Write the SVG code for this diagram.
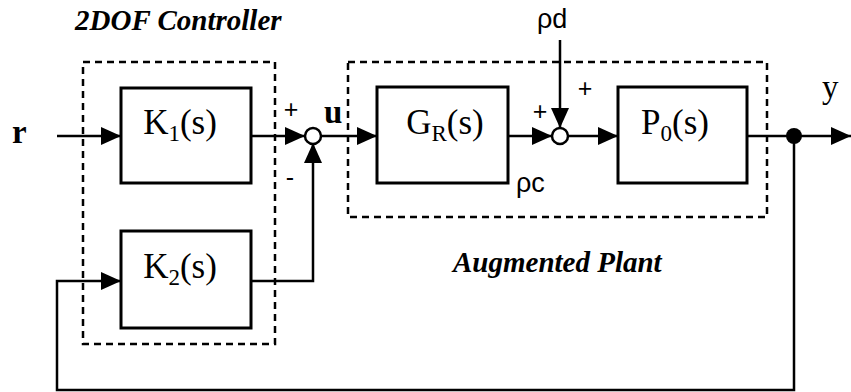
<svg xmlns="http://www.w3.org/2000/svg" width="851" height="392" viewBox="0 0 851 392">
<defs>
<marker id="ah" markerWidth="20" markerHeight="18" refX="20" refY="9" orient="auto" markerUnits="userSpaceOnUse">
<path d="M0,0 L20,9 L0,18 Z" fill="#000"/>
</marker>
<style>
.box{fill:#fff;stroke:#000;stroke-width:3}
.dash{fill:none;stroke:#000;stroke-width:2.5;stroke-dasharray:7 5}
.ln{fill:none;stroke:#000;stroke-width:2.5}
.sum{fill:#fff;stroke:#000;stroke-width:2.5}
.lbl{font-family:"Liberation Serif","Times New Roman",serif;font-size:35px;fill:#000}
.sub{font-size:23px}
.ttl{font-family:"Liberation Serif","Times New Roman",serif;font-size:29px;font-weight:bold;font-style:italic;fill:#000}
.sig{font-family:"Liberation Serif","Times New Roman",serif;font-size:33px;fill:#000}
.rho{font-family:"Liberation Sans",Arial,sans-serif;font-size:27px;fill:#000}
.sgn{font-family:"Liberation Sans",Arial,sans-serif;font-size:25px;fill:#000}
</style>
</defs>
<rect width="851" height="392" fill="#fff"/>

<g id="controller-frame">
<rect class="dash" x="83" y="62" width="192" height="282"/>
<text class="ttl" x="75" y="30">2DOF Controller</text>
</g>
<g id="plant-frame">
<rect class="dash" x="348" y="62" width="419" height="155"/>
<text class="ttl" x="453" y="272">Augmented Plant</text>
</g>

<g id="connectors">
<line class="ln" x1="57" y1="136" x2="121" y2="136" marker-end="url(#ah)"/>
<line class="ln" x1="251" y1="136" x2="305" y2="136" marker-end="url(#ah)"/>
<polyline class="ln" points="251,281 313,281 313,143" marker-end="url(#ah)"/>
<line class="ln" x1="321" y1="136" x2="377" y2="136" marker-end="url(#ah)"/>
<line class="ln" x1="508" y1="136" x2="552" y2="136" marker-end="url(#ah)"/>
<line class="ln" x1="560" y1="40" x2="560" y2="128" marker-end="url(#ah)"/>
<line class="ln" x1="568" y1="136" x2="618" y2="136" marker-end="url(#ah)"/>
<line class="ln" x1="747" y1="136" x2="851" y2="136" marker-end="url(#ah)"/>
<polyline class="ln" points="794,136 794,390 57,390 57,281 121,281" marker-end="url(#ah)"/>
</g>

<g id="K1">
<rect class="box" x="121" y="88" width="130" height="95"/>
<text class="lbl" x="180" y="134" text-anchor="middle">K<tspan class="sub" dy="7">1</tspan><tspan dy="-7">(s)</tspan></text>
</g>
<g id="K2">
<rect class="box" x="121" y="231" width="130" height="97"/>
<text class="lbl" x="180" y="278" text-anchor="middle">K<tspan class="sub" dy="7">2</tspan><tspan dy="-7">(s)</tspan></text>
</g>
<g id="GR">
<rect class="box" x="377" y="87" width="131" height="96"/>
<text class="lbl" x="445" y="134" text-anchor="middle">G<tspan class="sub" dy="7">R</tspan><tspan dy="-7">(s)</tspan></text>
</g>
<g id="P0">
<rect class="box" x="618" y="87" width="129" height="96"/>
<text class="lbl" x="675" y="134" text-anchor="middle">P<tspan class="sub" dy="7">0</tspan><tspan dy="-7">(s)</tspan></text>
</g>

<g id="sum1">
<circle class="sum" cx="313" cy="136" r="8"/>
<text class="sgn" x="291" y="118" text-anchor="middle">+</text>
<text class="sgn" x="290" y="186" text-anchor="middle">-</text>
</g>
<g id="sum2">
<circle class="sum" cx="560" cy="136" r="8"/>
<text class="sgn" x="540" y="120" text-anchor="middle">+</text>
<text class="sgn" x="585" y="97" text-anchor="middle">+</text>
</g>
<g id="junction">
<circle cx="794" cy="136" r="8" fill="#000"/>
</g>

<g id="signals">
<text class="sig" x="12" y="143" font-weight="bold">r</text>
<text class="sig" x="324" y="123" font-weight="bold">u</text>
<text class="sig" x="822" y="98">y</text>
<text class="rho" x="537" y="28">ρd</text>
<text class="rho" x="516" y="192">ρc</text>
</g>
</svg>
